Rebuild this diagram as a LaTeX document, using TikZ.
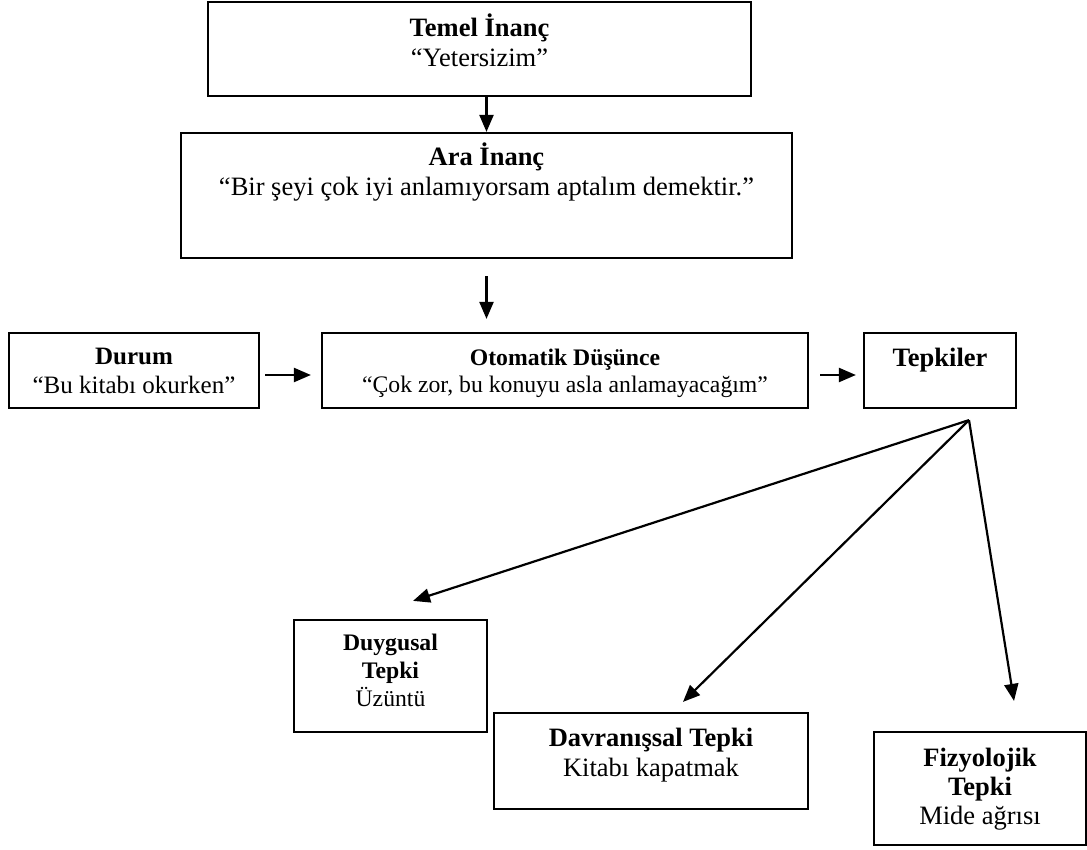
\documentclass[tikz,border=0pt]{standalone}
\usepackage{fontspec}
\setmainfont{Liberation Serif}
\usetikzlibrary{arrows.meta}
\begin{document}
\begin{tikzpicture}[x=1pt,y=-1pt,
  box/.style={draw, line width=2.2pt, inner sep=0pt},
  txt/.style={align=center, inner sep=0pt, anchor=base},
  arr/.style={line width=2.2pt, -{Triangle[length=17pt,width=14pt]}},
  fL/.style={font=\fontsize{26.5}{30}\selectfont},
  fM/.style={font=\fontsize{25}{29}\selectfont},
  fS/.style={font=\fontsize{23.7}{27.7}\selectfont},
  fF/.style={font=\fontsize{26.5}{28.7}\selectfont}
]
\useasboundingbox (0,0) rectangle (1087,850);
% boxes
\node[box, minimum width=543pt, minimum height=94pt] (temel) at (479.5,49) {};
\node[box, minimum width=611pt, minimum height=125pt] (ara) at (486.5,195.5) {};
\node[box, minimum width=250pt, minimum height=75pt] (durum) at (134,370.5) {};
\node[box, minimum width=486pt, minimum height=75pt] (oto) at (565,370.5) {};
\node[box, minimum width=152pt, minimum height=75pt] (tep) at (940,370.5) {};
\node[box, minimum width=193pt, minimum height=112pt] (duy) at (390.5,676) {};
\node[box, minimum width=314pt, minimum height=96pt] (dav) at (651,761) {};
\node[box, minimum width=212pt, minimum height=113pt] (fiz) at (980,788.5) {};
% texts (base anchor = baseline of last line)
\node[txt, fL] (temelT) at ([yshift=-66pt]temel.north) {\textbf{Temel İnanç}\\“Yetersizim”};
\node[txt, fL] (araT) at ([yshift=-64pt]ara.north) {\textbf{Ara İnanç}\\“Bir şeyi çok iyi anlamıyorsam aptalım demektir.”};
\node[txt, fM] (durumT) at ([yshift=-62pt]durum.north) {\textbf{Durum}\\“Bu kitabı okurken”};
\node[txt, fS] (otoT) at ([yshift=-61pt]oto.north) {\textbf{Otomatik Düşünce}\\“Çok zor, bu konuyu asla anlamayacağım”};
\node[txt, fL] (tepT) at ([yshift=-35pt]tep.north) {\textbf{Tepkiler}};
\node[txt, fS] (duyT) at ([yshift=-87.4pt]duy.north) {\textbf{Duygusal}\\\textbf{Tepki}\\Üzüntü};
\node[txt, fL] (davT) at ([yshift=-65pt]dav.north) {\textbf{Davranışsal Tepki}\\Kitabı kapatmak};
\node[txt, fF] (fizT) at ([yshift=-93.4pt]fiz.north) {\textbf{Fizyolojik}\\\textbf{Tepki}\\Mide ağrısı};
% connectors
\coordinate (a2s) at ([yshift=-17pt]ara.south);
\coordinate (otoN) at ([yshift=13pt]oto.north);
\coordinate (a2e) at (a2s |- otoN);
\draw[arr] (temel.south -| ara.north) -- (ara.north);
\draw[arr] (a2s) -- (a2e);
\draw[arr] ([xshift=5pt,yshift=-4.5pt]durum.east) -- ([xshift=-10pt,yshift=-4.5pt]oto.west);
\draw[arr] ([xshift=11pt,yshift=-4.5pt]oto.east) -- ([xshift=-7pt,yshift=-4.5pt]tep.west);
\coordinate (fan) at ([xshift=29pt,yshift=-11pt]tep.south);
\coordinate (tD) at ([xshift=22.5pt,yshift=18pt]duy.north);
\coordinate (tV) at ([xshift=32pt,yshift=10pt]dav.north);
\coordinate (tF) at ([xshift=34pt,yshift=30pt]fiz.north);
\draw[arr] (fan) -- (tD);
\draw[arr] (fan) -- (tV);
\draw[arr] (fan) -- (tF);
\end{tikzpicture}
\end{document}
